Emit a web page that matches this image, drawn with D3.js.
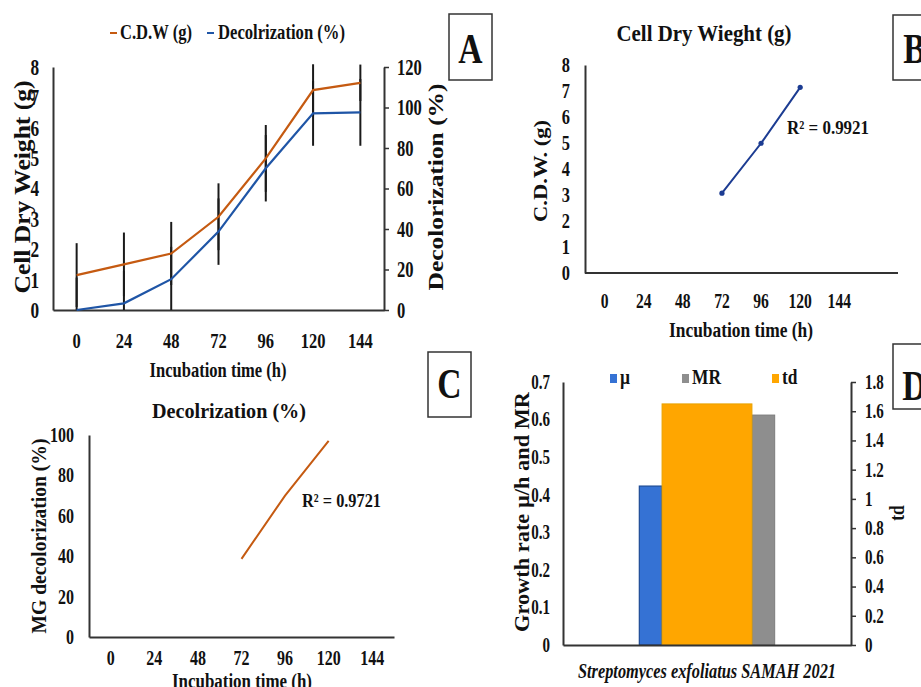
<!DOCTYPE html>
<html>
<head>
<meta charset="utf-8">
<script src="https://cdn.jsdelivr.net/npm/d3@7/dist/d3.min.js"></script>
<style>
  body { margin: 0; background: #fff; }
  svg { display: block; }
</style>
</head>
<body>
<script>
// data
const hours = ['0', '24', '48', '72', '96', '120', '144'];
const cdw = [1.15, 1.5, 1.86, 3.07, 4.99, 7.24, 7.48];        // g
const cdwErr = [1.05, 1.05, 1.04, 1.1, 1.1, 0.85, 0.6];
const decol = [0, 3.3, 15.2, 38.7, 70.0, 97.1, 97.6];          // %
const decolErr = [16, 16, 16, 16.4, 16.4, 16, 16.5];
const fitHours = ['72', '96', '120'];
const cdwFit = [3.07, 4.99, 7.14];
const decolFit = [38.7, 70.0, 97.1];
const strain = ['Streptomyces exfoliatus SAMAH 2021'];
const mu = [0.423];
const mr = [0.612];
const td = [1.65];

const ORANGE = '#c55a11', BLUE = '#1f55a6', NAVY = '#1c3c92', AXIS = '#333';

const svg = d3.select('body').append('svg')
  .attr('width', 921).attr('height', 687)
  .style('font-family', '"Liberation Serif", "Times New Roman", serif')
  .style('font-weight', 'bold')
  .style('fill', '#111');

const styleAxis = (g, size, sq) => {
  g.attr('font-family', null).attr('font-size', null);
  g.select('.domain').attr('stroke', AXIS).attr('stroke-width', 2);
  g.selectAll('.tick line').attr('stroke', AXIS).attr('stroke-width', 1.5);
  g.selectAll('.tick text').attr('fill', '#111').style('font-size', size + 'px').attr('data-sq', sq);
};

const label = (txt, x, y, size, opts = {}) => {
  const t = svg.append('text').text(txt)
    .attr('text-anchor', opts.anchor || 'middle')
    .style('font-size', size + 'px');
  if (opts.rotate) t.attr('transform', `translate(${x},${y}) rotate(-90)`).attr('dy', '0.35em');
  else t.attr('x', x).attr('y', y);
  if (opts.len) t.attr('data-len', opts.len);
  if (opts.sq) t.attr('data-sq', opts.sq);
  if (opts.italic) t.style('font-style', 'italic');
  return t;
};

const boxLabel = (txt, x, y, w, h, base) => {
  svg.append('rect').attr('x', x).attr('y', y).attr('width', w).attr('height', h)
    .attr('fill', '#fff').attr('stroke', AXIS).attr('stroke-width', 1.5);
  label(txt, x + w / 2, base, 42, { sq: 0.8 });
};

// ---------- Panel A ----------
const A = { l: 53, r: 384, t: 67, b: 310 };
const xA = d3.scaleBand().domain(hours).range([A.l, A.r]);
const yA = d3.scaleLinear().domain([0, 8]).range([A.b, A.t]);
const yA2 = d3.scaleLinear().domain([0, 120]).range([A.b, A.t]);
const cx = x => xA(x) + xA.bandwidth() / 2;

svg.append('g').attr('transform', `translate(0,${A.b})`)
  .call(d3.axisBottom(xA).tickSize(0).tickSizeOuter(0).tickPadding(22))
  .call(g => styleAxis(g, 22, 0.75));
svg.append('g').attr('transform', `translate(${A.l},0)`)
  .call(d3.axisLeft(yA).ticks(8).tickSize(0).tickPadding(14))
  .call(g => styleAxis(g, 23, 0.75));
svg.append('g').attr('transform', `translate(${A.r},0)`)
  .call(d3.axisRight(yA2).tickValues(d3.range(0, 121, 20)).tickSize(5).tickSizeOuter(0).tickPadding(8))
  .call(g => styleAxis(g, 23, 0.72));

// error bars (clipped to the plot area)
const errA = svg.append('g').attr('stroke', '#1a1a1a').attr('stroke-width', 2);
hours.forEach((h, i) => {
  errA.append('line').attr('x1', cx(h)).attr('x2', cx(h))
    .attr('y1', yA(Math.max(0, cdw[i] - cdwErr[i]))).attr('y2', yA(Math.min(8.1, cdw[i] + cdwErr[i])));
  errA.append('line').attr('x1', cx(h)).attr('x2', cx(h))
    .attr('y1', yA2(Math.max(0, decol[i] - decolErr[i]))).attr('y2', yA2(Math.min(121.5, decol[i] + decolErr[i])));
});

const lineA = (vals, y) => d3.line().x((d, i) => cx(hours[i])).y(d => y(d))(vals);
svg.append('path').attr('d', lineA(cdw, yA)).attr('fill', 'none').attr('stroke', ORANGE).attr('stroke-width', 2.2);
svg.append('path').attr('d', lineA(decol, yA2)).attr('fill', 'none').attr('stroke', BLUE).attr('stroke-width', 2.2);

// legend A
svg.append('line').attr('x1', 110).attr('x2', 117).attr('y1', 33).attr('y2', 33).attr('stroke', ORANGE).attr('stroke-width', 2);
label('C.D.W (g)', 120, 39, 20, { anchor: 'start', len: 72 });
svg.append('line').attr('x1', 207).attr('x2', 214).attr('y1', 33).attr('y2', 33).attr('stroke', BLUE).attr('stroke-width', 2);
label('Decolrization (%)', 218, 39, 20, { anchor: 'start', len: 127 });

label('Incubation time (h)', 218, 377, 21, { len: 137 });
label('Cell Dry Weight (g)', 22, 187, 23, { rotate: true, len: 213 });
label('Decolorization (%)', 435, 187, 22, { rotate: true, len: 207 });
boxLabel('A', 449, 14, 43, 66, 63);

// ---------- Panel B ----------
const B = { l: 585, r: 898, t: 65, b: 273 };
const xB = d3.scaleBand().domain(hours).range([B.l, B.l + (B.r - B.l) * 7 / 8]);
const yB = d3.scaleLinear().domain([0, 8]).range([B.b, B.t]);
const cxB = x => xB(x) + xB.bandwidth() / 2;

svg.append('g').attr('transform', `translate(0,${B.b})`)
  .call(d3.axisBottom(xB).tickSize(0).tickSizeOuter(0).tickPadding(21))
  .call(g => styleAxis(g, 20, 0.78))
  .call(g => g.select('.domain').attr('d', `M${B.l},0H${B.r}`));
svg.append('g').attr('transform', `translate(${B.l},0)`)
  .call(d3.axisLeft(yB).ticks(8).tickSize(0).tickPadding(15))
  .call(g => styleAxis(g, 21, 0.78));

svg.append('path')
  .attr('d', d3.line().x((d, i) => cxB(fitHours[i])).y(d => yB(d))(cdwFit))
  .attr('fill', 'none').attr('stroke', NAVY).attr('stroke-width', 2);
svg.append('g').selectAll('circle').data(cdwFit).join('circle')
  .attr('cx', (d, i) => cxB(fitHours[i])).attr('cy', d => yB(d)).attr('r', 2.6).attr('fill', NAVY);

label('Cell Dry Wieght (g)', 704, 41, 23, { len: 175 });
label('R² = 0.9921', 787, 134, 19, { anchor: 'start', len: 82 });
label('Incubation time (h)', 741, 337, 20, { len: 144 });
label('C.D.W. (g)', 540, 171, 19, { rotate: true, len: 102 });
boxLabel('B', 893, 15, 43, 65, 63);

// ---------- Panel C ----------
const C = { l: 89, r: 394, t: 435, b: 637 };
const xC = d3.scaleBand().domain(hours).range([C.l, C.r]);
const yC = d3.scaleLinear().domain([0, 100]).range([C.b, C.t]);
const cxC = x => xC(x) + xC.bandwidth() / 2;

svg.append('g').attr('transform', `translate(0,${C.b})`)
  .call(d3.axisBottom(xC).tickSize(0).tickSizeOuter(0).tickPadding(14))
  .call(g => styleAxis(g, 20, 0.8));
svg.append('g').attr('transform', `translate(${C.l},0)`)
  .call(d3.axisLeft(yC).tickValues(d3.range(0, 101, 20)).tickSize(0).tickPadding(15))
  .call(g => styleAxis(g, 20, 0.8));

svg.append('path')
  .attr('d', d3.line().x((d, i) => cxC(fitHours[i])).y(d => yC(d))(decolFit))
  .attr('fill', 'none').attr('stroke', ORANGE).attr('stroke-width', 2);

label('Decolrization (%)', 229, 418, 22, { len: 154 });
label('R² = 0.9721', 302, 507, 19, { anchor: 'start', len: 79 });
label('Incubation time (h)', 242, 688, 20, { len: 140 });
label('MG decolorization (%)', 39, 536, 20, { rotate: true, len: 195 });
boxLabel('C', 428, 352, 43, 65, 398);

// ---------- Panel D ----------
const D = { l: 563, r: 851, t: 382, b: 645 };
const xD = d3.scaleBand().domain(strain).range([D.l, D.r]);
const yD = d3.scaleLinear().domain([0, 0.7]).range([D.b, D.t]);
const yD2 = d3.scaleLinear().domain([0, 1.8]).range([D.b, D.t]);
const fmt = d => String(+d.toFixed(1));

const tdW = xD.bandwidth() * 0.312, sideW = xD.bandwidth() * 0.079;
const mid = s => xD(s) + xD.bandwidth() / 2;
svg.append('g').selectAll('rect').data(strain).join('rect')
  .attr('x', s => mid(s) - tdW / 2 - sideW).attr('width', sideW)
  .attr('y', (s, i) => yD(mu[i])).attr('height', (s, i) => D.b - yD(mu[i]))
  .attr('fill', '#3572d4').attr('stroke', '#1d4a94').attr('stroke-width', 1.2);
svg.append('g').selectAll('rect').data(strain).join('rect')
  .attr('x', s => mid(s) + tdW / 2).attr('width', sideW)
  .attr('y', (s, i) => yD(mr[i])).attr('height', (s, i) => D.b - yD(mr[i]))
  .attr('fill', '#8e8e8e').attr('stroke', '#7d7d7d').attr('stroke-width', 1);
svg.append('g').selectAll('rect').data(strain).join('rect')
  .attr('x', s => mid(s) - tdW / 2).attr('width', tdW)
  .attr('y', (s, i) => yD2(td[i])).attr('height', (s, i) => D.b - yD2(td[i]))
  .attr('fill', '#ffa600').attr('stroke', '#e8a200').attr('stroke-width', 1);

svg.append('g').attr('transform', `translate(0,${D.b})`)
  .call(d3.axisBottom(xD).tickSize(0).tickSizeOuter(0).tickFormat(''))
  .call(g => styleAxis(g, 20, 0.87));
svg.append('g').attr('transform', `translate(${D.l},0)`)
  .call(d3.axisLeft(yD).tickValues(d3.range(0, 0.71, 0.1)).tickFormat(fmt).tickSize(0).tickPadding(13))
  .call(g => styleAxis(g, 20, 0.75));
svg.append('g').attr('transform', `translate(${D.r},0)`)
  .call(d3.axisRight(yD2).tickValues(d3.range(0, 1.81, 0.2)).tickFormat(fmt).tickSize(5).tickSizeOuter(0).tickPadding(9))
  .call(g => styleAxis(g, 20, 0.75));

// legend D
const legD = [['µ', '#3572d4', 610], ['MR', '#8e8e8e', 682], ['td', '#ffa600', 772]];
legD.forEach(([name, col, x]) => {
  svg.append('rect').attr('x', x).attr('y', 374).attr('width', 7).attr('height', 9).attr('fill', col);
  label(name, x + 10, 384, 20, { anchor: 'start' });
});

label(strain[0], 707, 678, 20, { italic: true, len: 258 });
label('Growth rate µ/h and MR', 522, 512, 21, { rotate: true, len: 240 });
label('td', 897, 513, 20, { rotate: true });
boxLabel('D', 893, 344, 43, 65, 400);

// the figure's lettering is horizontally condensed
svg.selectAll('text').each(function() {
  const el = d3.select(this);
  const len = el.attr('data-len') ? +el.attr('data-len')
    : this.getComputedTextLength() * (+el.attr('data-sq') || 0.87);
  el.attr('textLength', len).attr('lengthAdjust', 'spacingAndGlyphs');
});
</script>
</body>
</html>
